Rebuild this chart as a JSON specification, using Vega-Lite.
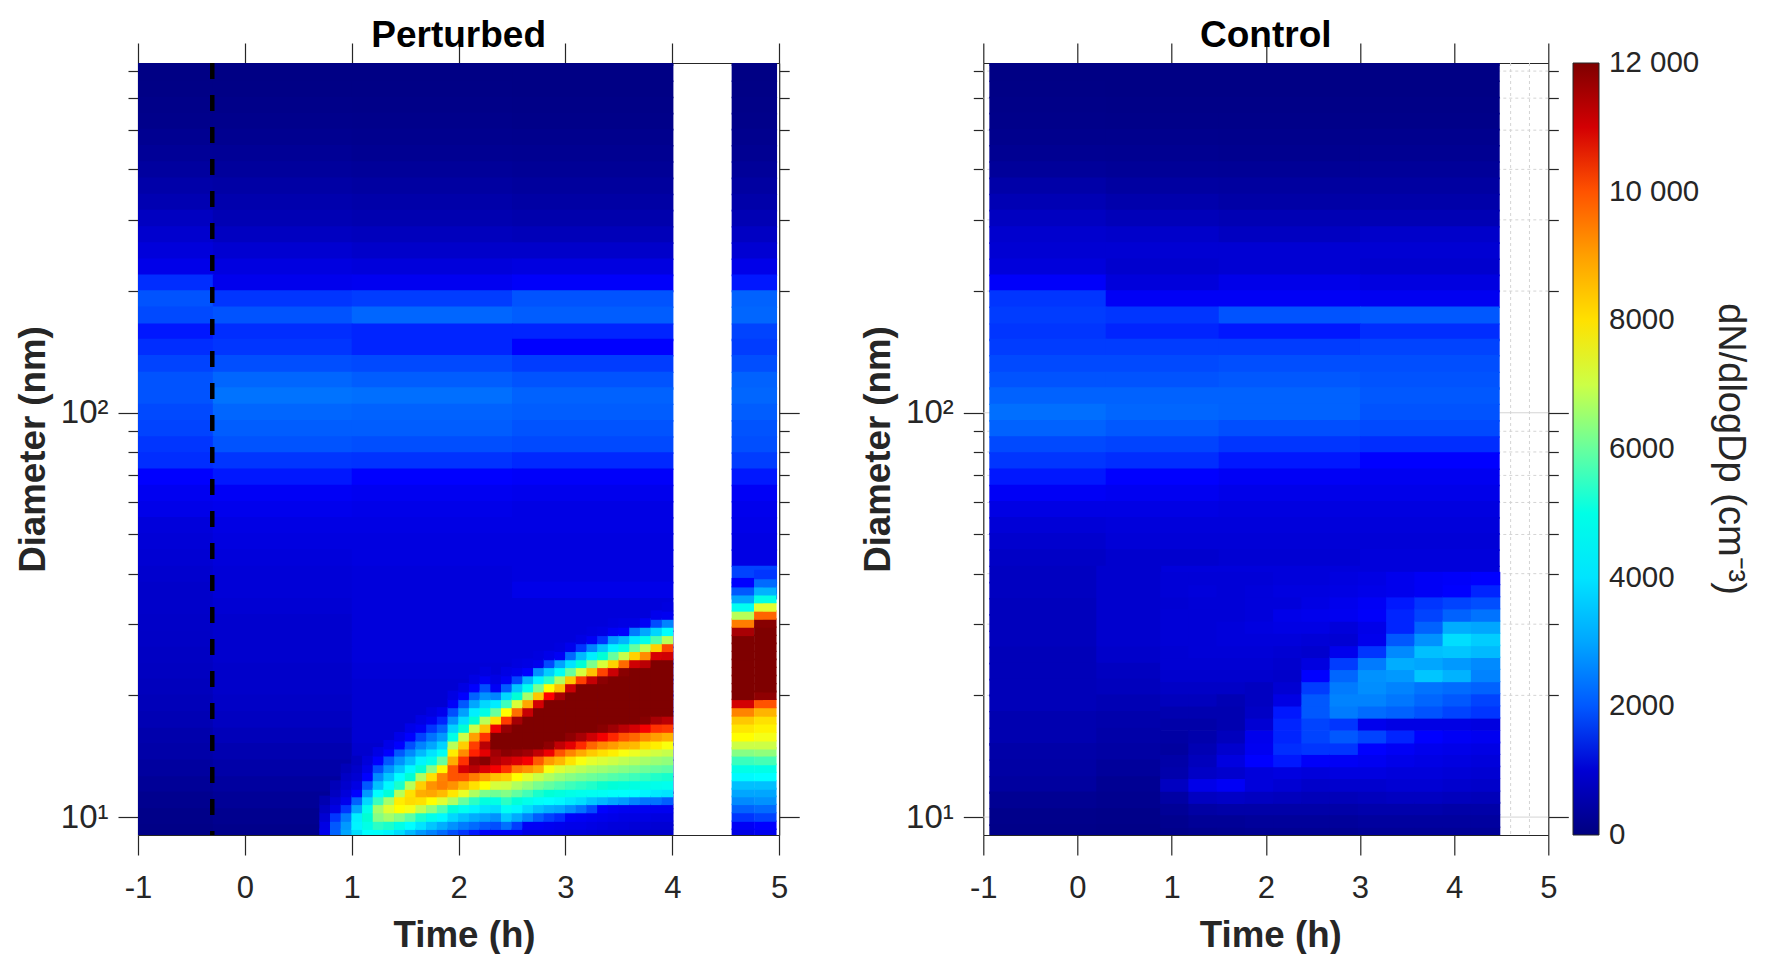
{"$schema":"https://vega.github.io/schema/vega-lite/v6.json","background":"white","padding":{"left":15,"top":17,"right":10,"bottom":0},"spacing":203.3,"bounds":"flush","resolve":{"scale":{"color":"shared"},"legend":{"color":"shared"}},
"config":{"font":"Liberation Sans","view":{"stroke":null},"axis":{"grid":false,"domainColor":"#262626","tickColor":"#262626","domainWidth":1.2,"tickWidth":1.2,"labelFontSize":31,"labelColor":"#262626","titleFontSize":36.7,"titleFontWeight":"bold","titleColor":"#262626","labelOverlap":false,"labelFlush":false,"labelBound":false,"zindex":1},"title":{"fontSize":37,"fontWeight":"bold","color":"#000000","anchor":"middle","offset":-13},"legend":{"gradientLength":772,"gradientThickness":26,"gradientStrokeColor":"#262626","gradientStrokeWidth":1,"labelFontSize":29.5,"labelColor":"#262626","labelOverlap":false,"titleFontSize":38,"titleFontWeight":"normal","titleColor":"#262626","titleOrient":"right","titleAnchor":"middle","titlePadding":12,"titleLimit":500,"titleAngle":270,"offset":4}},
"hconcat":[
{"title":"Perturbed","width":641.2,"height":772,"resolve":{"axis":{"x":"independent","y":"independent"}},"layer":[
{"data":{"values":[
{"t0":-1,"t1":-0.29,"d":759,"v":60},{"t0":-0.3,"t1":1.01,"d":759,"v":60},{"t0":1,"t1":2.51,"d":759,"v":60},{"t0":2.5,"t1":4.01,"d":759,"v":60},{"t0":4.555,"t1":4.98,"d":759,"v":60},
{"t0":-1,"t1":-0.29,"d":692,"v":70},{"t0":-0.3,"t1":1.01,"d":692,"v":70},{"t0":1,"t1":2.51,"d":692,"v":70},{"t0":2.5,"t1":4.01,"d":692,"v":70},{"t0":4.555,"t1":4.98,"d":692,"v":70},
{"t0":-1,"t1":-0.29,"d":631,"v":90},{"t0":-0.3,"t1":1.01,"d":631,"v":90},{"t0":1,"t1":2.51,"d":631,"v":90},{"t0":2.5,"t1":4.01,"d":631,"v":80},{"t0":4.555,"t1":4.98,"d":631,"v":90},
{"t0":-1,"t1":-0.29,"d":575,"v":120},{"t0":-0.3,"t1":1.01,"d":575,"v":120},{"t0":1,"t1":2.51,"d":575,"v":110},{"t0":2.5,"t1":4.01,"d":575,"v":100},{"t0":4.555,"t1":4.98,"d":575,"v":110},
{"t0":-1,"t1":-0.29,"d":525,"v":150},{"t0":-0.3,"t1":1.01,"d":525,"v":160},{"t0":1,"t1":2.51,"d":525,"v":150},{"t0":2.5,"t1":4.01,"d":525,"v":130},{"t0":4.555,"t1":4.98,"d":525,"v":140},
{"t0":-1,"t1":-0.29,"d":479,"v":220},{"t0":-0.3,"t1":1.01,"d":479,"v":210},{"t0":1,"t1":2.51,"d":479,"v":190},{"t0":2.5,"t1":4.01,"d":479,"v":170},{"t0":4.555,"t1":4.98,"d":479,"v":190},
{"t0":-1,"t1":-0.29,"d":437,"v":300},{"t0":-0.3,"t1":1.01,"d":437,"v":280},{"t0":1,"t1":2.51,"d":437,"v":240},{"t0":2.5,"t1":4.01,"d":437,"v":220},{"t0":4.555,"t1":4.98,"d":437,"v":240},
{"t0":-1,"t1":-0.29,"d":398,"v":400},{"t0":-0.3,"t1":1.01,"d":398,"v":360},{"t0":1,"t1":2.51,"d":398,"v":320},{"t0":2.5,"t1":4.01,"d":398,"v":280},{"t0":4.555,"t1":4.98,"d":398,"v":320},
{"t0":-1,"t1":-0.29,"d":363,"v":520},{"t0":-0.3,"t1":1.01,"d":363,"v":470},{"t0":1,"t1":2.51,"d":363,"v":420},{"t0":2.5,"t1":4.01,"d":363,"v":370},{"t0":4.555,"t1":4.98,"d":363,"v":420},
{"t0":-1,"t1":-0.29,"d":331,"v":620},{"t0":-0.3,"t1":1.01,"d":331,"v":560},{"t0":1,"t1":2.51,"d":331,"v":520},{"t0":2.5,"t1":4.01,"d":331,"v":450},{"t0":4.555,"t1":4.98,"d":331,"v":520},
{"t0":-1,"t1":-0.29,"d":302,"v":800},{"t0":-0.3,"t1":1.01,"d":302,"v":650},{"t0":1,"t1":2.51,"d":302,"v":600},{"t0":2.5,"t1":4.01,"d":302,"v":550},{"t0":4.555,"t1":4.98,"d":302,"v":650},
{"t0":-1,"t1":-0.29,"d":275,"v":950},{"t0":-0.3,"t1":1.01,"d":275,"v":800},{"t0":1,"t1":2.51,"d":275,"v":750},{"t0":2.5,"t1":4.01,"d":275,"v":700},{"t0":4.555,"t1":4.98,"d":275,"v":820},
{"t0":-1,"t1":-0.29,"d":251,"v":1100},{"t0":-0.3,"t1":1.01,"d":251,"v":980},{"t0":1,"t1":2.51,"d":251,"v":900},{"t0":2.5,"t1":4.01,"d":251,"v":900},{"t0":4.555,"t1":4.98,"d":251,"v":1000},
{"t0":-1,"t1":-0.29,"d":229,"v":1250},{"t0":-0.3,"t1":1.01,"d":229,"v":1150},{"t0":1,"t1":2.51,"d":229,"v":1100},{"t0":2.5,"t1":4.01,"d":229,"v":1150},{"t0":4.555,"t1":4.98,"d":229,"v":1250},
{"t0":-1,"t1":-0.29,"d":209,"v":1650},{"t0":-0.3,"t1":1.01,"d":209,"v":1300},{"t0":1,"t1":2.51,"d":209,"v":1350},{"t0":2.5,"t1":4.01,"d":209,"v":1450},{"t0":4.555,"t1":4.98,"d":209,"v":1550},
{"t0":-1,"t1":-0.29,"d":191,"v":1950},{"t0":-0.3,"t1":1.01,"d":191,"v":1700},{"t0":1,"t1":2.51,"d":191,"v":1750},{"t0":2.5,"t1":4.01,"d":191,"v":1950},{"t0":4.555,"t1":4.98,"d":191,"v":2100},
{"t0":-1,"t1":-0.29,"d":174,"v":1850},{"t0":-0.3,"t1":1.01,"d":174,"v":1950},{"t0":1,"t1":2.51,"d":174,"v":2150},{"t0":2.5,"t1":4.01,"d":174,"v":2050},{"t0":4.555,"t1":4.98,"d":174,"v":2150},
{"t0":-1,"t1":-0.29,"d":158,"v":1550},{"t0":-0.3,"t1":1.01,"d":158,"v":1650},{"t0":1,"t1":2.51,"d":158,"v":1600},{"t0":2.5,"t1":4.01,"d":158,"v":1600},{"t0":4.555,"t1":4.98,"d":158,"v":1800},
{"t0":-1,"t1":-0.29,"d":145,"v":1650},{"t0":-0.3,"t1":1.01,"d":145,"v":1700},{"t0":1,"t1":2.51,"d":145,"v":1600},{"t0":2.5,"t1":4.01,"d":145,"v":1500},{"t0":4.555,"t1":4.98,"d":145,"v":1750},
{"t0":-1,"t1":-0.29,"d":132,"v":1800},{"t0":-0.3,"t1":1.01,"d":132,"v":1900},{"t0":1,"t1":2.51,"d":132,"v":1850},{"t0":2.5,"t1":4.01,"d":132,"v":1750},{"t0":4.555,"t1":4.98,"d":132,"v":1900},
{"t0":-1,"t1":-0.29,"d":120,"v":1950},{"t0":-0.3,"t1":1.01,"d":120,"v":2150},{"t0":1,"t1":2.51,"d":120,"v":2050},{"t0":2.5,"t1":4.01,"d":120,"v":1950},{"t0":4.555,"t1":4.98,"d":120,"v":2100},
{"t0":-1,"t1":-0.29,"d":110,"v":1950},{"t0":-0.3,"t1":1.01,"d":110,"v":2300},{"t0":1,"t1":2.51,"d":110,"v":2250},{"t0":2.5,"t1":4.01,"d":110,"v":2100},{"t0":4.555,"t1":4.98,"d":110,"v":2150},
{"t0":-1,"t1":-0.29,"d":100,"v":1850},{"t0":-0.3,"t1":1.01,"d":100,"v":2150},{"t0":1,"t1":2.51,"d":100,"v":2100},{"t0":2.5,"t1":4.01,"d":100,"v":2050},{"t0":4.555,"t1":4.98,"d":100,"v":2050},
{"t0":-1,"t1":-0.29,"d":91.2,"v":1800},{"t0":-0.3,"t1":1.01,"d":91.2,"v":2050},{"t0":1,"t1":2.51,"d":91.2,"v":2050},{"t0":2.5,"t1":4.01,"d":91.2,"v":1950},{"t0":4.555,"t1":4.98,"d":91.2,"v":1950},
{"t0":-1,"t1":-0.29,"d":83.2,"v":1700},{"t0":-0.3,"t1":1.01,"d":83.2,"v":1950},{"t0":1,"t1":2.51,"d":83.2,"v":1900},{"t0":2.5,"t1":4.01,"d":83.2,"v":1850},{"t0":4.555,"t1":4.98,"d":83.2,"v":1900},
{"t0":-1,"t1":-0.29,"d":75.9,"v":1650},{"t0":-0.3,"t1":1.01,"d":75.9,"v":1700},{"t0":1,"t1":2.51,"d":75.9,"v":1680},{"t0":2.5,"t1":4.01,"d":75.9,"v":1620},{"t0":4.555,"t1":4.98,"d":75.9,"v":1750},
{"t0":-1,"t1":-0.29,"d":69.2,"v":1500},{"t0":-0.3,"t1":1.01,"d":69.2,"v":1550},{"t0":1,"t1":2.51,"d":69.2,"v":1500},{"t0":2.5,"t1":4.01,"d":69.2,"v":1450},{"t0":4.555,"t1":4.98,"d":69.2,"v":1550},
{"t0":-1,"t1":-0.29,"d":63.1,"v":1350},{"t0":-0.3,"t1":1.01,"d":63.1,"v":1400},{"t0":1,"t1":2.51,"d":63.1,"v":1350},{"t0":2.5,"t1":4.01,"d":63.1,"v":1300},{"t0":4.555,"t1":4.98,"d":63.1,"v":1400},
{"t0":-1,"t1":-0.29,"d":57.5,"v":1250},{"t0":-0.3,"t1":1.01,"d":57.5,"v":1300},{"t0":1,"t1":2.51,"d":57.5,"v":1250},{"t0":2.5,"t1":4.01,"d":57.5,"v":1200},{"t0":4.555,"t1":4.98,"d":57.5,"v":1300},
{"t0":-1,"t1":-0.29,"d":52.5,"v":1100},{"t0":-0.3,"t1":1.01,"d":52.5,"v":1200},{"t0":1,"t1":2.51,"d":52.5,"v":1200},{"t0":2.5,"t1":4.01,"d":52.5,"v":1200},{"t0":4.555,"t1":4.98,"d":52.5,"v":1250},
{"t0":-1,"t1":-0.29,"d":47.9,"v":1050},{"t0":-0.3,"t1":1.01,"d":47.9,"v":1150},{"t0":1,"t1":2.51,"d":47.9,"v":1150},{"t0":2.5,"t1":4.01,"d":47.9,"v":1150},{"t0":4.555,"t1":4.98,"d":47.9,"v":1200},
{"t0":-1,"t1":-0.29,"d":43.7,"v":1000},{"t0":-0.3,"t1":1.01,"d":43.7,"v":1100},{"t0":1,"t1":2.51,"d":43.7,"v":1150},{"t0":2.5,"t1":4.01,"d":43.7,"v":1150},{"t0":4.555,"t1":4.98,"d":43.7,"v":1200},
{"t0":-1,"t1":-0.29,"d":39.8,"v":950},{"t0":-0.3,"t1":1.01,"d":39.8,"v":1050},{"t0":1,"t1":2.51,"d":39.8,"v":1100},{"t0":2.5,"t1":4.01,"d":39.8,"v":1150},{"t0":4.555,"t1":4.98,"d":39.8,"v":1800},
{"t0":-1,"t1":-0.29,"d":36.3,"v":900},{"t0":-0.3,"t1":1.01,"d":36.3,"v":1050},{"t0":1,"t1":2.51,"d":36.3,"v":1100},{"t0":2.5,"t1":4.01,"d":36.3,"v":1250},{"t0":4.555,"t1":4.98,"d":36.3,"v":2000},
{"t0":-1,"t1":-0.29,"d":33.1,"v":900},{"t0":-0.3,"t1":1.01,"d":33.1,"v":1000},{"t0":1,"t1":4.01,"d":33.1,"v":1100},
{"t0":-1,"t1":-0.29,"d":30.2,"v":880},{"t0":-0.3,"t1":1.01,"d":30.2,"v":950},{"t0":1,"t1":4.01,"d":30.2,"v":1100},
{"t0":-1,"t1":-0.29,"d":27.5,"v":850},{"t0":-0.3,"t1":1.01,"d":27.5,"v":950},{"t0":1,"t1":4.01,"d":27.5,"v":1100},
{"t0":-1,"t1":-0.29,"d":25.1,"v":820},{"t0":-0.3,"t1":1.01,"d":25.1,"v":950},{"t0":1,"t1":4.01,"d":25.1,"v":1100},
{"t0":-1,"t1":-0.29,"d":22.9,"v":800},{"t0":-0.3,"t1":1.01,"d":22.9,"v":900},{"t0":1,"t1":4.01,"d":22.9,"v":1050},
{"t0":-1,"t1":-0.29,"d":20.9,"v":750},{"t0":-0.3,"t1":1.01,"d":20.9,"v":900},{"t0":1,"t1":4.01,"d":20.9,"v":1000},
{"t0":-1,"t1":-0.29,"d":19.1,"v":700},{"t0":-0.3,"t1":1.01,"d":19.1,"v":850},{"t0":1,"t1":4.01,"d":19.1,"v":1000},
{"t0":-1,"t1":-0.29,"d":17.4,"v":650},{"t0":-0.3,"t1":1.01,"d":17.4,"v":800},{"t0":1,"t1":4.01,"d":17.4,"v":1000},
{"t0":-1,"t1":-0.29,"d":15.8,"v":550},{"t0":-0.3,"t1":1.01,"d":15.8,"v":700},{"t0":1,"t1":4.01,"d":15.8,"v":1000},
{"t0":-1,"t1":-0.29,"d":14.5,"v":500},{"t0":-0.3,"t1":1.01,"d":14.5,"v":600},{"t0":1,"t1":4.01,"d":14.5,"v":950},
{"t0":-1,"t1":-0.29,"d":13.2,"v":400},{"t0":-0.3,"t1":1.01,"d":13.2,"v":500},{"t0":1,"t1":4.01,"d":13.2,"v":900},
{"t0":-1,"t1":-0.29,"d":12,"v":300},{"t0":-0.3,"t1":1.01,"d":12,"v":400},{"t0":1,"t1":4.01,"d":12,"v":800},
{"t0":-1,"t1":-0.29,"d":11,"v":200},{"t0":-0.3,"t1":1.01,"d":11,"v":300},{"t0":1,"t1":4.01,"d":11,"v":700},
{"t0":-1,"t1":-0.29,"d":10,"v":120},{"t0":-0.3,"t1":1.01,"d":10,"v":200},{"t0":1,"t1":4.01,"d":10,"v":600},
{"t0":-1,"t1":-0.29,"d":9.12,"v":100},{"t0":-0.3,"t1":1.01,"d":9.12,"v":150},{"t0":1,"t1":4.01,"d":9.12,"v":500}
]},"mark":{"type":"rect","height":17.8,"clip":true},"encoding":{
"x":{"field":"t0","type":"quantitative","scale":{"domain":[-1,5],"nice":false,"zero":false},"axis":{"orient":"bottom","values":[-1,0,1,2,3,4,5],"title":"Time (h)","titleX":326,"tickSize":20,"labelExpr":"''+datum.value","labelPadding":18,"titlePadding":14}},
"x2":{"field":"t1"},
"y":{"field":"d","type":"quantitative","scale":{"type":"log","domain":[9.03,733],"nice":false},"axis":{"orient":"left","values":[10,20,30,40,50,60,70,80,90,100,200,300,400,500,600,700],"title":"Diameter (nm)","tickSize":{"condition":{"test":"datum.value==10||datum.value==100","value":20},"value":10},"labelExpr":"datum.value==10?'10¹':datum.value==100?'10²':''","labelFontSize":33,"labelPadding":10,"titlePadding":8}},
"fill":{"field":"v","type":"quantitative","title":"dN/dlogDp (cm⁻³)","scale":{"domain":[0,1500,4500,7500,10500,12000],"range":["#00007f","#0000ff","#00ffff","#ffff00","#ff0000","#7f0000"]},"legend":{"values":[1,2000,4000,6000,8000,10000,11999],"labelOffset":10,"labelExpr":"datum.value>=9999?round(datum.value/1000)+' 000':''+round(datum.value/1000)*1000"}}}},
{"data":{"values":[
{"t":0.75,"d":9.12,"v":1300},{"t":0.75,"d":9.55,"v":1200},{"t":0.75,"d":10,"v":1000},{"t":0.75,"d":10.5,"v":800},{"t":0.75,"d":11,"v":600},
{"t":0.85,"d":9.12,"v":2100},{"t":0.85,"d":9.55,"v":2000},{"t":0.85,"d":10,"v":1700},{"t":0.85,"d":10.5,"v":1200},{"t":0.85,"d":11,"v":1000},{"t":0.85,"d":11.5,"v":800},{"t":0.85,"d":12,"v":700},
{"t":0.95,"d":9.12,"v":3000},{"t":0.95,"d":9.55,"v":2800},{"t":0.95,"d":10,"v":2400},{"t":0.95,"d":10.5,"v":1700},{"t":0.95,"d":11,"v":1300},{"t":0.95,"d":11.5,"v":1100},{"t":0.95,"d":12,"v":950},{"t":0.95,"d":12.6,"v":850},{"t":0.95,"d":13.2,"v":700},
{"t":1.05,"d":9.12,"v":3900},{"t":1.05,"d":9.55,"v":4300},{"t":1.05,"d":10,"v":4200},{"t":1.05,"d":10.5,"v":3000},{"t":1.05,"d":11,"v":2100},{"t":1.05,"d":11.5,"v":1500},{"t":1.05,"d":12,"v":1200},{"t":1.05,"d":12.6,"v":1000},{"t":1.05,"d":13.2,"v":900},{"t":1.05,"d":13.8,"v":800},
{"t":1.15,"d":9.12,"v":4500},{"t":1.15,"d":9.55,"v":5000},{"t":1.15,"d":10,"v":5300},{"t":1.15,"d":10.5,"v":4900},{"t":1.15,"d":11,"v":3800},{"t":1.15,"d":11.5,"v":2800},{"t":1.15,"d":12,"v":2000},{"t":1.15,"d":12.6,"v":1500},{"t":1.15,"d":13.2,"v":1250},{"t":1.15,"d":13.8,"v":1100},
{"t":1.25,"d":9.12,"v":4600},{"t":1.25,"d":9.55,"v":5500},{"t":1.25,"d":10,"v":6300},{"t":1.25,"d":10.5,"v":6600},{"t":1.25,"d":11,"v":5600},{"t":1.25,"d":11.5,"v":4500},{"t":1.25,"d":12,"v":3400},{"t":1.25,"d":12.6,"v":2600},{"t":1.25,"d":13.2,"v":1900},{"t":1.25,"d":13.8,"v":1500},{"t":1.25,"d":14.5,"v":1200},
{"t":1.35,"d":9.12,"v":4300},{"t":1.35,"d":9.55,"v":5400},{"t":1.35,"d":10,"v":6600},{"t":1.35,"d":10.5,"v":7200},{"t":1.35,"d":11,"v":6600},{"t":1.35,"d":11.5,"v":5200},{"t":1.35,"d":12,"v":4400},{"t":1.35,"d":12.6,"v":3500},{"t":1.35,"d":13.2,"v":2700},{"t":1.35,"d":13.8,"v":2000},{"t":1.35,"d":14.5,"v":1500},{"t":1.35,"d":15.1,"v":1250},
{"t":1.45,"d":9.12,"v":3900},{"t":1.45,"d":9.55,"v":5000},{"t":1.45,"d":10,"v":6300},{"t":1.45,"d":10.5,"v":7500},{"t":1.45,"d":11,"v":7800},{"t":1.45,"d":11.5,"v":6800},{"t":1.45,"d":12,"v":5400},{"t":1.45,"d":12.6,"v":4500},{"t":1.45,"d":13.2,"v":3500},{"t":1.45,"d":13.8,"v":2700},{"t":1.45,"d":14.5,"v":2000},{"t":1.45,"d":15.1,"v":1500},{"t":1.45,"d":15.8,"v":1250},
{"t":1.55,"d":9.12,"v":3300},{"t":1.55,"d":9.55,"v":4500},{"t":1.55,"d":10,"v":5900},{"t":1.55,"d":10.5,"v":7400},{"t":1.55,"d":11,"v":8100},{"t":1.55,"d":11.5,"v":8000},{"t":1.55,"d":12,"v":6800},{"t":1.55,"d":12.6,"v":5300},{"t":1.55,"d":13.2,"v":4400},{"t":1.55,"d":13.8,"v":3400},{"t":1.55,"d":14.5,"v":2600},{"t":1.55,"d":15.1,"v":1900},{"t":1.55,"d":15.8,"v":1500},{"t":1.55,"d":16.6,"v":1250},
{"t":1.65,"d":9.12,"v":2800},{"t":1.65,"d":9.55,"v":4000},{"t":1.65,"d":10,"v":5400},{"t":1.65,"d":10.5,"v":6900},{"t":1.65,"d":11,"v":8000},{"t":1.65,"d":11.5,"v":8800},{"t":1.65,"d":12,"v":8300},{"t":1.65,"d":12.6,"v":6700},{"t":1.65,"d":13.2,"v":5300},{"t":1.65,"d":13.8,"v":4300},{"t":1.65,"d":14.5,"v":3300},{"t":1.65,"d":15.1,"v":2500},{"t":1.65,"d":15.8,"v":1800},{"t":1.65,"d":16.6,"v":1400},{"t":1.65,"d":17.4,"v":1200},
{"t":1.75,"d":9.12,"v":2500},{"t":1.75,"d":9.55,"v":3500},{"t":1.75,"d":10,"v":4900},{"t":1.75,"d":10.5,"v":6400},{"t":1.75,"d":11,"v":7500},{"t":1.75,"d":11.5,"v":8900},{"t":1.75,"d":12,"v":9200},{"t":1.75,"d":12.6,"v":8000},{"t":1.75,"d":13.2,"v":6300},{"t":1.75,"d":13.8,"v":4900},{"t":1.75,"d":14.5,"v":4000},{"t":1.75,"d":15.1,"v":3000},{"t":1.75,"d":15.8,"v":2300},{"t":1.75,"d":16.6,"v":1700},{"t":1.75,"d":17.4,"v":1350},{"t":1.75,"d":18.2,"v":1150},
{"t":1.85,"d":9.12,"v":2200},{"t":1.85,"d":9.55,"v":3100},{"t":1.85,"d":10,"v":4400},{"t":1.85,"d":10.5,"v":5800},{"t":1.85,"d":11,"v":7200},{"t":1.85,"d":11.5,"v":8600},{"t":1.85,"d":12,"v":9500},{"t":1.85,"d":12.6,"v":9400},{"t":1.85,"d":13.2,"v":7600},{"t":1.85,"d":13.8,"v":6000},{"t":1.85,"d":14.5,"v":4700},{"t":1.85,"d":15.1,"v":3700},{"t":1.85,"d":15.8,"v":2800},{"t":1.85,"d":16.6,"v":2100},{"t":1.85,"d":17.4,"v":1600},{"t":1.85,"d":18.2,"v":1300},
{"t":1.95,"d":9.12,"v":1900},{"t":1.95,"d":9.55,"v":2700},{"t":1.95,"d":10,"v":3800},{"t":1.95,"d":10.5,"v":5200},{"t":1.95,"d":11,"v":6700},{"t":1.95,"d":11.5,"v":7900},{"t":1.95,"d":12,"v":9200},{"t":1.95,"d":12.6,"v":10000},{"t":1.95,"d":13.2,"v":10000},{"t":1.95,"d":13.8,"v":8800},{"t":1.95,"d":14.5,"v":7800},{"t":1.95,"d":15.1,"v":6800},{"t":1.95,"d":15.8,"v":5000},{"t":1.95,"d":16.6,"v":3700},{"t":1.95,"d":17.4,"v":2700},{"t":1.95,"d":18.2,"v":1900},{"t":1.95,"d":19.1,"v":1450},{"t":1.95,"d":20,"v":1200},
{"t":2.05,"d":9.12,"v":1700},{"t":2.05,"d":9.55,"v":2400},{"t":2.05,"d":10,"v":3400},{"t":2.05,"d":10.5,"v":4800},{"t":2.05,"d":11,"v":6000},{"t":2.05,"d":11.5,"v":7300},{"t":2.05,"d":12,"v":8600},{"t":2.05,"d":12.6,"v":10000},{"t":2.05,"d":13.2,"v":11000},{"t":2.05,"d":13.8,"v":10300},{"t":2.05,"d":14.5,"v":9300},{"t":2.05,"d":15.1,"v":8300},{"t":2.05,"d":15.8,"v":7000},{"t":2.05,"d":16.6,"v":5300},{"t":2.05,"d":17.4,"v":3900},{"t":2.05,"d":18.2,"v":2900},{"t":2.05,"d":19.1,"v":2000},{"t":2.05,"d":20,"v":1500},{"t":2.05,"d":20.9,"v":1200},
{"t":2.15,"d":9.12,"v":1550},{"t":2.15,"d":9.55,"v":2200},{"t":2.15,"d":10,"v":3100},{"t":2.15,"d":10.5,"v":4300},{"t":2.15,"d":11,"v":5500},{"t":2.15,"d":11.5,"v":6700},{"t":2.15,"d":12,"v":8000},{"t":2.15,"d":12.6,"v":9500},{"t":2.15,"d":13.2,"v":11300},{"t":2.15,"d":13.8,"v":11700},{"t":2.15,"d":14.5,"v":10400},{"t":2.15,"d":15.1,"v":10200},{"t":2.15,"d":15.8,"v":9000},{"t":2.15,"d":16.6,"v":7000},{"t":2.15,"d":17.4,"v":5300},{"t":2.15,"d":18.2,"v":4200},{"t":2.15,"d":19.1,"v":3000},{"t":2.15,"d":20,"v":2100},{"t":2.15,"d":20.9,"v":1500},{"t":2.15,"d":21.9,"v":1200},
{"t":2.25,"d":9.12,"v":1450},{"t":2.25,"d":9.55,"v":2000},{"t":2.25,"d":10,"v":2900},{"t":2.25,"d":10.5,"v":4000},{"t":2.25,"d":11,"v":5100},{"t":2.25,"d":11.5,"v":6200},{"t":2.25,"d":12,"v":7500},{"t":2.25,"d":12.6,"v":9000},{"t":2.25,"d":13.2,"v":10900},{"t":2.25,"d":13.8,"v":11900},{"t":2.25,"d":14.5,"v":10800},{"t":2.25,"d":15.1,"v":11300},{"t":2.25,"d":15.8,"v":10300},{"t":2.25,"d":16.6,"v":8500},{"t":2.25,"d":17.4,"v":6800},{"t":2.25,"d":18.2,"v":5000},{"t":2.25,"d":19.1,"v":3800},{"t":2.25,"d":20,"v":2700},{"t":2.25,"d":20.9,"v":1900},{"t":2.25,"d":21.9,"v":1400},{"t":2.25,"d":22.9,"v":1150},
{"t":2.35,"d":9.12,"v":1400},{"t":2.35,"d":9.55,"v":1900},{"t":2.35,"d":10,"v":2700},{"t":2.35,"d":10.5,"v":3900},{"t":2.35,"d":11,"v":5000},{"t":2.35,"d":11.5,"v":6100},{"t":2.35,"d":12,"v":7100},{"t":2.35,"d":12.6,"v":8500},{"t":2.35,"d":13.2,"v":10600},{"t":2.35,"d":13.8,"v":11400},{"t":2.35,"d":14.5,"v":11600},{"t":2.35,"d":15.1,"v":12000},{"t":2.35,"d":15.8,"v":12000},{"t":2.35,"d":16.6,"v":10700},{"t":2.35,"d":17.4,"v":8000},{"t":2.35,"d":18.2,"v":6000},{"t":2.35,"d":19.1,"v":4170},{"t":2.35,"d":20,"v":2500},{"t":2.35,"d":20.9,"v":1400},{"t":2.35,"d":21.9,"v":1200},
{"t":2.45,"d":9.12,"v":1400},{"t":2.45,"d":9.55,"v":2280},{"t":2.45,"d":10,"v":3580},{"t":2.45,"d":10.5,"v":4730},{"t":2.45,"d":11,"v":5500},{"t":2.45,"d":11.5,"v":6270},{"t":2.45,"d":12,"v":7040},{"t":2.45,"d":12.6,"v":8300},{"t":2.45,"d":13.2,"v":10300},{"t":2.45,"d":13.8,"v":11140},{"t":2.45,"d":14.5,"v":11860},{"t":2.45,"d":15.1,"v":12000},{"t":2.45,"d":15.8,"v":12000},{"t":2.45,"d":16.6,"v":11730},{"t":2.45,"d":17.4,"v":10230},{"t":2.45,"d":18.2,"v":7500},{"t":2.45,"d":19.1,"v":5630},{"t":2.45,"d":20,"v":3790},{"t":2.45,"d":20.9,"v":2030},{"t":2.45,"d":21.9,"v":1400},{"t":2.45,"d":22.9,"v":1200},
{"t":2.55,"d":9.12,"v":1400},{"t":2.55,"d":9.55,"v":1760},{"t":2.55,"d":10,"v":3070},{"t":2.55,"d":10.5,"v":4370},{"t":2.55,"d":11,"v":5190},{"t":2.55,"d":11.5,"v":5960},{"t":2.55,"d":12,"v":6730},{"t":2.55,"d":12.6,"v":7500},{"t":2.55,"d":13.2,"v":9500},{"t":2.55,"d":13.8,"v":10900},{"t":2.55,"d":14.5,"v":11750},{"t":2.55,"d":15.1,"v":12000},{"t":2.55,"d":15.8,"v":12000},{"t":2.55,"d":16.6,"v":12000},{"t":2.55,"d":17.4,"v":11550},{"t":2.55,"d":18.2,"v":9680},{"t":2.55,"d":19.1,"v":7130},{"t":2.55,"d":20,"v":5250},{"t":2.55,"d":20.9,"v":3500},{"t":2.55,"d":21.9,"v":1830},{"t":2.55,"d":22.9,"v":1300},{"t":2.55,"d":24,"v":1150},
{"t":2.65,"d":9.12,"v":1200},{"t":2.65,"d":9.55,"v":1400},{"t":2.65,"d":10,"v":2540},{"t":2.65,"d":10.5,"v":3850},{"t":2.65,"d":11,"v":4900},{"t":2.65,"d":11.5,"v":5670},{"t":2.65,"d":12,"v":6460},{"t":2.65,"d":12.6,"v":7250},{"t":2.65,"d":13.2,"v":9190},{"t":2.65,"d":13.8,"v":10600},{"t":2.65,"d":14.5,"v":11600},{"t":2.65,"d":15.1,"v":12000},{"t":2.65,"d":15.8,"v":12000},{"t":2.65,"d":16.6,"v":12000},{"t":2.65,"d":17.4,"v":12000},{"t":2.65,"d":18.2,"v":11150},{"t":2.65,"d":19.1,"v":8900},{"t":2.65,"d":20,"v":6620},{"t":2.65,"d":20.9,"v":4850},{"t":2.65,"d":21.9,"v":3170},{"t":2.65,"d":22.9,"v":1500},{"t":2.65,"d":24,"v":1200},
{"t":2.75,"d":9.12,"v":1200},{"t":2.75,"d":9.55,"v":1400},{"t":2.75,"d":10,"v":2050},{"t":2.75,"d":10.5,"v":3410},{"t":2.75,"d":11,"v":4650},{"t":2.75,"d":11.5,"v":5400},{"t":2.75,"d":12,"v":6170},{"t":2.75,"d":12.6,"v":6960},{"t":2.75,"d":13.2,"v":8810},{"t":2.75,"d":13.8,"v":9940},{"t":2.75,"d":14.5,"v":11200},{"t":2.75,"d":15.1,"v":12000},{"t":2.75,"d":15.8,"v":12000},{"t":2.75,"d":16.6,"v":12000},{"t":2.75,"d":17.4,"v":12000},{"t":2.75,"d":18.2,"v":12000},{"t":2.75,"d":19.1,"v":11000},{"t":2.75,"d":20,"v":8400},{"t":2.75,"d":20.9,"v":6190},{"t":2.75,"d":21.9,"v":4300},{"t":2.75,"d":22.9,"v":2670},{"t":2.75,"d":24,"v":1300},{"t":2.75,"d":25.1,"v":1150},
{"t":2.85,"d":9.12,"v":1200},{"t":2.85,"d":9.55,"v":1350},{"t":2.85,"d":10,"v":1770},{"t":2.85,"d":10.5,"v":3130},{"t":2.85,"d":11,"v":4500},{"t":2.85,"d":11.5,"v":5230},{"t":2.85,"d":12,"v":5960},{"t":2.85,"d":12.6,"v":6700},{"t":2.85,"d":13.2,"v":7430},{"t":2.85,"d":13.8,"v":9090},{"t":2.85,"d":14.5,"v":10700},{"t":2.85,"d":15.1,"v":11800},{"t":2.85,"d":15.8,"v":12000},{"t":2.85,"d":16.6,"v":12000},{"t":2.85,"d":17.4,"v":12000},{"t":2.85,"d":18.2,"v":12000},{"t":2.85,"d":19.1,"v":12000},{"t":2.85,"d":20,"v":10500},{"t":2.85,"d":20.9,"v":7500},{"t":2.85,"d":21.9,"v":5500},{"t":2.85,"d":22.9,"v":3620},{"t":2.85,"d":24,"v":1850},{"t":2.85,"d":25.1,"v":1250},
{"t":2.95,"d":9.12,"v":1150},{"t":2.95,"d":9.55,"v":1300},{"t":2.95,"d":10,"v":1630},{"t":2.95,"d":10.5,"v":3000},{"t":2.95,"d":11,"v":4360},{"t":2.95,"d":11.5,"v":5110},{"t":2.95,"d":12,"v":5790},{"t":2.95,"d":12.6,"v":6480},{"t":2.95,"d":13.2,"v":7160},{"t":2.95,"d":13.8,"v":8670},{"t":2.95,"d":14.5,"v":10000},{"t":2.95,"d":15.1,"v":11200},{"t":2.95,"d":15.8,"v":12000},{"t":2.95,"d":16.6,"v":12000},{"t":2.95,"d":17.4,"v":12000},{"t":2.95,"d":18.2,"v":12000},{"t":2.95,"d":19.1,"v":12000},{"t":2.95,"d":20,"v":11500},{"t":2.95,"d":20.9,"v":8500},{"t":2.95,"d":21.9,"v":6700},{"t":2.95,"d":22.9,"v":4700},{"t":2.95,"d":24,"v":2950},{"t":2.95,"d":25.1,"v":1400},{"t":2.95,"d":26.3,"v":1150},
{"t":3.05,"d":9.12,"v":1100},{"t":3.05,"d":9.55,"v":1250},{"t":3.05,"d":10,"v":1450},{"t":3.05,"d":10.5,"v":2650},{"t":3.05,"d":11,"v":4100},{"t":3.05,"d":11.5,"v":4970},{"t":3.05,"d":12,"v":5630},{"t":3.05,"d":12.6,"v":6300},{"t":3.05,"d":13.2,"v":6970},{"t":3.05,"d":13.8,"v":7970},{"t":3.05,"d":14.5,"v":9390},{"t":3.05,"d":15.1,"v":10800},{"t":3.05,"d":15.8,"v":11800},{"t":3.05,"d":16.6,"v":12000},{"t":3.05,"d":17.4,"v":12000},{"t":3.05,"d":18.2,"v":12000},{"t":3.05,"d":19.1,"v":12000},{"t":3.05,"d":20,"v":12000},{"t":3.05,"d":20.9,"v":11100},{"t":3.05,"d":21.9,"v":8400},{"t":3.05,"d":22.9,"v":6000},{"t":3.05,"d":24,"v":4000},{"t":3.05,"d":25.1,"v":2180},{"t":3.05,"d":26.3,"v":1300},
{"t":3.15,"d":9.12,"v":1100},{"t":3.15,"d":9.55,"v":1250},{"t":3.15,"d":10,"v":1400},{"t":3.15,"d":10.5,"v":2290},{"t":3.15,"d":11,"v":3870},{"t":3.15,"d":11.5,"v":4880},{"t":3.15,"d":12,"v":5520},{"t":3.15,"d":12.6,"v":6160},{"t":3.15,"d":13.2,"v":6800},{"t":3.15,"d":13.8,"v":7440},{"t":3.15,"d":14.5,"v":8850},{"t":3.15,"d":15.1,"v":10350},{"t":3.15,"d":15.8,"v":11500},{"t":3.15,"d":16.6,"v":12000},{"t":3.15,"d":17.4,"v":12000},{"t":3.15,"d":18.2,"v":12000},{"t":3.15,"d":19.1,"v":12000},{"t":3.15,"d":20,"v":12000},{"t":3.15,"d":20.9,"v":12000},{"t":3.15,"d":21.9,"v":10200},{"t":3.15,"d":22.9,"v":7100},{"t":3.15,"d":24,"v":5250},{"t":3.15,"d":25.1,"v":3300},{"t":3.15,"d":26.3,"v":1700},{"t":3.15,"d":27.5,"v":1200},
{"t":3.25,"d":9.12,"v":1050},{"t":3.25,"d":9.55,"v":1200},{"t":3.25,"d":10,"v":1350},{"t":3.25,"d":10.5,"v":1860},{"t":3.25,"d":11,"v":3500},{"t":3.25,"d":11.5,"v":4800},{"t":3.25,"d":12,"v":5430},{"t":3.25,"d":12.6,"v":6040},{"t":3.25,"d":13.2,"v":6640},{"t":3.25,"d":13.8,"v":7260},{"t":3.25,"d":14.5,"v":8360},{"t":3.25,"d":15.1,"v":9790},{"t":3.25,"d":15.8,"v":11050},{"t":3.25,"d":16.6,"v":12000},{"t":3.25,"d":17.4,"v":12000},{"t":3.25,"d":18.2,"v":12000},{"t":3.25,"d":19.1,"v":12000},{"t":3.25,"d":20,"v":12000},{"t":3.25,"d":20.9,"v":12000},{"t":3.25,"d":21.9,"v":11170},{"t":3.25,"d":22.9,"v":8500},{"t":3.25,"d":24,"v":6190},{"t":3.25,"d":25.1,"v":4200},{"t":3.25,"d":26.3,"v":2500},{"t":3.25,"d":27.5,"v":1400},{"t":3.25,"d":28.8,"v":1150},
{"t":3.35,"d":9.12,"v":1000},{"t":3.35,"d":9.55,"v":1150},{"t":3.35,"d":10,"v":1300},{"t":3.35,"d":10.5,"v":1500},{"t":3.35,"d":11,"v":3260},{"t":3.35,"d":11.5,"v":4740},{"t":3.35,"d":12,"v":5340},{"t":3.35,"d":12.6,"v":5940},{"t":3.35,"d":13.2,"v":6540},{"t":3.35,"d":13.8,"v":7140},{"t":3.35,"d":14.5,"v":8020},{"t":3.35,"d":15.1,"v":9330},{"t":3.35,"d":15.8,"v":10630},{"t":3.35,"d":16.6,"v":11880},{"t":3.35,"d":17.4,"v":12000},{"t":3.35,"d":18.2,"v":12000},{"t":3.35,"d":19.1,"v":12000},{"t":3.35,"d":20,"v":12000},{"t":3.35,"d":20.9,"v":12000},{"t":3.35,"d":21.9,"v":11850},{"t":3.35,"d":22.9,"v":10170},{"t":3.35,"d":24,"v":7120},{"t":3.35,"d":25.1,"v":5250},{"t":3.35,"d":26.3,"v":3440},{"t":3.35,"d":27.5,"v":1680},{"t":3.35,"d":28.8,"v":1200},
{"t":3.45,"d":9.12,"v":1000},{"t":3.45,"d":9.55,"v":1100},{"t":3.45,"d":10,"v":1250},{"t":3.45,"d":10.5,"v":1400},{"t":3.45,"d":11,"v":3000},{"t":3.45,"d":11.5,"v":4620},{"t":3.45,"d":12,"v":5220},{"t":3.45,"d":12.6,"v":5820},{"t":3.45,"d":13.2,"v":6420},{"t":3.45,"d":13.8,"v":7020},{"t":3.45,"d":14.5,"v":7760},{"t":3.45,"d":15.1,"v":9070},{"t":3.45,"d":15.8,"v":10370},{"t":3.45,"d":16.6,"v":11620},{"t":3.45,"d":17.4,"v":12000},{"t":3.45,"d":18.2,"v":12000},{"t":3.45,"d":19.1,"v":12000},{"t":3.45,"d":20,"v":12000},{"t":3.45,"d":20.9,"v":12000},{"t":3.45,"d":21.9,"v":12000},{"t":3.45,"d":22.9,"v":11100},{"t":3.45,"d":24,"v":8250},{"t":3.45,"d":25.1,"v":6000},{"t":3.45,"d":26.3,"v":4300},{"t":3.45,"d":27.5,"v":2790},{"t":3.45,"d":28.8,"v":1400},{"t":3.45,"d":30.2,"v":1150},
{"t":3.55,"d":9.12,"v":950},{"t":3.55,"d":9.55,"v":1100},{"t":3.55,"d":10,"v":1200},{"t":3.55,"d":10.5,"v":1350},{"t":3.55,"d":11,"v":2800},{"t":3.55,"d":11.5,"v":4560},{"t":3.55,"d":12,"v":5140},{"t":3.55,"d":12.6,"v":5720},{"t":3.55,"d":13.2,"v":6300},{"t":3.55,"d":13.8,"v":6870},{"t":3.55,"d":14.5,"v":7440},{"t":3.55,"d":15.1,"v":8720},{"t":3.55,"d":15.8,"v":10000},{"t":3.55,"d":16.6,"v":11280},{"t":3.55,"d":17.4,"v":12000},{"t":3.55,"d":18.2,"v":12000},{"t":3.55,"d":19.1,"v":12000},{"t":3.55,"d":20,"v":12000},{"t":3.55,"d":20.9,"v":12000},{"t":3.55,"d":21.9,"v":12000},{"t":3.55,"d":22.9,"v":11880},{"t":3.55,"d":24,"v":9750},{"t":3.55,"d":25.1,"v":6940},{"t":3.55,"d":26.3,"v":5060},{"t":3.55,"d":27.5,"v":3260},{"t":3.55,"d":28.8,"v":1500},{"t":3.55,"d":30.2,"v":1200},
{"t":3.65,"d":9.12,"v":950},{"t":3.65,"d":9.55,"v":1050},{"t":3.65,"d":10,"v":1200},{"t":3.65,"d":10.5,"v":1350},{"t":3.65,"d":11,"v":2500},{"t":3.65,"d":11.5,"v":4500},{"t":3.65,"d":12,"v":5070},{"t":3.65,"d":12.6,"v":5630},{"t":3.65,"d":13.2,"v":6200},{"t":3.65,"d":13.8,"v":6760},{"t":3.65,"d":14.5,"v":7330},{"t":3.65,"d":15.1,"v":8610},{"t":3.65,"d":15.8,"v":9760},{"t":3.65,"d":16.6,"v":11000},{"t":3.65,"d":17.4,"v":12000},{"t":3.65,"d":18.2,"v":12000},{"t":3.65,"d":19.1,"v":12000},{"t":3.65,"d":20,"v":12000},{"t":3.65,"d":20.9,"v":12000},{"t":3.65,"d":21.9,"v":12000},{"t":3.65,"d":22.9,"v":12000},{"t":3.65,"d":24,"v":11050},{"t":3.65,"d":25.1,"v":8250},{"t":3.65,"d":26.3,"v":6000},{"t":3.65,"d":27.5,"v":4150},{"t":3.65,"d":28.8,"v":2380},{"t":3.65,"d":30.2,"v":1200},
{"t":3.75,"d":9.12,"v":900},{"t":3.75,"d":9.55,"v":1050},{"t":3.75,"d":10,"v":1200},{"t":3.75,"d":10.5,"v":1350},{"t":3.75,"d":11,"v":2300},{"t":3.75,"d":11.5,"v":4300},{"t":3.75,"d":12,"v":5000},{"t":3.75,"d":12.6,"v":5530},{"t":3.75,"d":13.2,"v":6070},{"t":3.75,"d":13.8,"v":6620},{"t":3.75,"d":14.5,"v":7170},{"t":3.75,"d":15.1,"v":8020},{"t":3.75,"d":15.8,"v":9330},{"t":3.75,"d":16.6,"v":10600},{"t":3.75,"d":17.4,"v":11900},{"t":3.75,"d":18.2,"v":12000},{"t":3.75,"d":19.1,"v":12000},{"t":3.75,"d":20,"v":12000},{"t":3.75,"d":20.9,"v":12000},{"t":3.75,"d":21.9,"v":12000},{"t":3.75,"d":22.9,"v":12000},{"t":3.75,"d":24,"v":11300},{"t":3.75,"d":25.1,"v":9300},{"t":3.75,"d":26.3,"v":6900},{"t":3.75,"d":27.5,"v":4900},{"t":3.75,"d":28.8,"v":3000},{"t":3.75,"d":30.2,"v":1400},
{"t":3.85,"d":9.12,"v":900},{"t":3.85,"d":9.55,"v":1000},{"t":3.85,"d":10,"v":1150},{"t":3.85,"d":10.5,"v":1350},{"t":3.85,"d":11,"v":2300},{"t":3.85,"d":11.5,"v":4100},{"t":3.85,"d":12,"v":4900},{"t":3.85,"d":12.6,"v":5430},{"t":3.85,"d":13.2,"v":5970},{"t":3.85,"d":13.8,"v":6500},{"t":3.85,"d":14.5,"v":7040},{"t":3.85,"d":15.1,"v":7760},{"t":3.85,"d":15.8,"v":9020},{"t":3.85,"d":16.6,"v":10300},{"t":3.85,"d":17.4,"v":11500},{"t":3.85,"d":18.2,"v":12000},{"t":3.85,"d":19.1,"v":12000},{"t":3.85,"d":20,"v":12000},{"t":3.85,"d":20.9,"v":12000},{"t":3.85,"d":21.9,"v":12000},{"t":3.85,"d":22.9,"v":12000},{"t":3.85,"d":24,"v":12000},{"t":3.85,"d":25.1,"v":10960},{"t":3.85,"d":26.3,"v":8250},{"t":3.85,"d":27.5,"v":5790},{"t":3.85,"d":28.8,"v":3750},{"t":3.85,"d":30.2,"v":1880},{"t":3.85,"d":31.6,"v":1300},
{"t":3.955,"d":9.12,"v":900},{"t":3.955,"d":9.55,"v":1000},{"t":3.955,"d":10,"v":1150},{"t":3.955,"d":10.5,"v":1350},{"t":3.955,"d":11,"v":2060},{"t":3.955,"d":11.5,"v":4000},{"t":3.955,"d":12,"v":4860},{"t":3.955,"d":12.6,"v":5380},{"t":3.955,"d":13.2,"v":5900},{"t":3.955,"d":13.8,"v":6410},{"t":3.955,"d":14.5,"v":6930},{"t":3.955,"d":15.1,"v":7450},{"t":3.955,"d":15.8,"v":8770},{"t":3.955,"d":16.6,"v":10230},{"t":3.955,"d":17.4,"v":11270},{"t":3.955,"d":18.2,"v":12000},{"t":3.955,"d":19.1,"v":12000},{"t":3.955,"d":20,"v":12000},{"t":3.955,"d":20.9,"v":12000},{"t":3.955,"d":21.9,"v":12000},{"t":3.955,"d":22.9,"v":12000},{"t":3.955,"d":24,"v":12000},{"t":3.955,"d":25.1,"v":11040},{"t":3.955,"d":26.3,"v":10130},{"t":3.955,"d":27.5,"v":6800},{"t":3.955,"d":28.8,"v":4500},{"t":3.955,"d":30.2,"v":2500},{"t":3.955,"d":31.6,"v":1350},{"t":3.955,"d":33.1,"v":1150}
]},"mark":{"type":"rect","width":11.4,"height":9.5,"clip":true},"encoding":{
"x":{"field":"t","type":"quantitative","scale":{"domain":[-1,5],"nice":false,"zero":false},"axis":{"orient":"top","values":[-1,0,1,2,3,4,5],"title":null,"labels":false,"tickSize":20}},
"y":{"field":"d","type":"quantitative","scale":{"type":"log","domain":[9.03,733],"nice":false},"axis":{"orient":"right","values":[10,20,30,40,50,60,70,80,90,100,200,300,400,500,600,700],"title":null,"labels":false,"tickSize":{"condition":{"test":"datum.value==10||datum.value==100","value":20},"value":10}}},
"fill":{"field":"v","type":"quantitative","title":"dN/dlogDp (cm⁻³)","scale":{"domain":[0,1500,4500,7500,10500,12000],"range":["#00007f","#0000ff","#00ffff","#ffff00","#ff0000","#7f0000"]},"legend":{"values":[1,2000,4000,6000,8000,10000,11999],"labelOffset":10,"labelExpr":"datum.value>=9999?round(datum.value/1000)+' 000':''+round(datum.value/1000)*1000"}}}},
{"data":{"values":[
{"t":4.66,"d":9.12,"v":1200},{"t":4.66,"d":9.55,"v":1400},{"t":4.66,"d":10,"v":1700},{"t":4.66,"d":10.5,"v":2100},{"t":4.66,"d":11,"v":2600},{"t":4.66,"d":11.5,"v":3000},{"t":4.66,"d":12,"v":3400},{"t":4.66,"d":12.6,"v":4400},{"t":4.66,"d":13.2,"v":5000},{"t":4.66,"d":13.8,"v":5600},{"t":4.66,"d":14.5,"v":6300},{"t":4.66,"d":15.1,"v":7000},{"t":4.66,"d":15.8,"v":7500},{"t":4.66,"d":16.6,"v":7900},{"t":4.66,"d":17.4,"v":8400},{"t":4.66,"d":18.2,"v":9400},{"t":4.66,"d":19.1,"v":11000},{"t":4.66,"d":20,"v":12000},{"t":4.66,"d":20.9,"v":12000},{"t":4.66,"d":21.9,"v":12000},{"t":4.66,"d":22.9,"v":12000},{"t":4.66,"d":24,"v":12000},{"t":4.66,"d":25.1,"v":12000},{"t":4.66,"d":26.3,"v":12000},{"t":4.66,"d":27.5,"v":12000},{"t":4.66,"d":28.8,"v":11500},{"t":4.66,"d":30.2,"v":9500},{"t":4.66,"d":31.6,"v":6800},{"t":4.66,"d":33.1,"v":4800},{"t":4.66,"d":34.7,"v":3000},{"t":4.66,"d":36.3,"v":2000},{"t":4.66,"d":38,"v":1500},
{"t":4.87,"d":9.12,"v":1300},{"t":4.87,"d":9.55,"v":1500},{"t":4.87,"d":10,"v":1800},{"t":4.87,"d":10.5,"v":2200},{"t":4.87,"d":11,"v":2700},{"t":4.87,"d":11.5,"v":3000},{"t":4.87,"d":12,"v":3400},{"t":4.87,"d":12.6,"v":4500},{"t":4.87,"d":13.2,"v":5000},{"t":4.87,"d":13.8,"v":5700},{"t":4.87,"d":14.5,"v":6400},{"t":4.87,"d":15.1,"v":7000},{"t":4.87,"d":15.8,"v":7400},{"t":4.87,"d":16.6,"v":7700},{"t":4.87,"d":17.4,"v":8000},{"t":4.87,"d":18.2,"v":8700},{"t":4.87,"d":19.1,"v":10000},{"t":4.87,"d":20,"v":11800},{"t":4.87,"d":20.9,"v":12000},{"t":4.87,"d":21.9,"v":12000},{"t":4.87,"d":22.9,"v":12000},{"t":4.87,"d":24,"v":12000},{"t":4.87,"d":25.1,"v":12000},{"t":4.87,"d":26.3,"v":12000},{"t":4.87,"d":27.5,"v":12000},{"t":4.87,"d":28.8,"v":12000},{"t":4.87,"d":30.2,"v":11900},{"t":4.87,"d":31.6,"v":9800},{"t":4.87,"d":33.1,"v":7200},{"t":4.87,"d":34.7,"v":5000},{"t":4.87,"d":36.3,"v":3200},{"t":4.87,"d":38,"v":2200},{"t":4.87,"d":39.8,"v":1700}
]},"mark":{"type":"rect","width":22.5,"height":9.5,"clip":true},"encoding":{
"x":{"field":"t","type":"quantitative","scale":{"domain":[-1,5],"nice":false,"zero":false},"axis":null},
"y":{"field":"d","type":"quantitative","scale":{"type":"log","domain":[9.03,733],"nice":false},"axis":null},
"fill":{"field":"v","type":"quantitative","title":"dN/dlogDp (cm⁻³)","scale":{"domain":[0,1500,4500,7500,10500,12000],"range":["#00007f","#0000ff","#00ffff","#ffff00","#ff0000","#7f0000"]},"legend":{"values":[1,2000,4000,6000,8000,10000,11999],"labelOffset":10,"labelExpr":"datum.value>=9999?round(datum.value/1000)+' 000':''+round(datum.value/1000)*1000"}}}},
{"data":{"values":[{"t":-0.305}]},"mark":{"type":"rule","color":"#000000","strokeWidth":4.5,"strokeDash":[16,16]},"encoding":{"x":{"field":"t","type":"quantitative","scale":{"domain":[-1,5],"nice":false,"zero":false},"axis":null}}}
]},
{"title":"Control","width":565,"height":772,"resolve":{"axis":{"x":"independent","y":"independent"}},"layer":[
{"data":{"values":[{"d":20},{"d":30},{"d":40},{"d":50},{"d":60},{"d":70},{"d":80},{"d":90},{"d":200},{"d":300},{"d":400},{"d":500},{"d":600},{"d":700}]},"mark":{"type":"rule","color":"#d4d4d4","strokeWidth":1,"strokeDash":[3,3]},"encoding":{"y":{"field":"d","type":"quantitative","scale":{"type":"log","domain":[9.03,733],"nice":false},"axis":null}}},
{"data":{"values":[{"d":10},{"d":100}]},"mark":{"type":"rule","color":"#d4d4d4","strokeWidth":1},"encoding":{"y":{"field":"d","type":"quantitative","scale":{"type":"log","domain":[9.03,733],"nice":false},"axis":null}}},
{"data":{"values":[{"t":4.6},{"t":4.8}]},"mark":{"type":"rule","color":"#d4d4d4","strokeWidth":1,"strokeDash":[3,3]},"encoding":{"x":{"field":"t","type":"quantitative","scale":{"domain":[-1,5],"nice":false,"zero":false},"axis":null}}},
{"data":{"values":[
{"t0":-0.936,"t1":0.31,"d":759,"v":60},{"t0":0.3,"t1":1.51,"d":759,"v":60},{"t0":1.5,"t1":3.01,"d":759,"v":60},{"t0":3,"t1":4.484,"d":759,"v":60},
{"t0":-0.936,"t1":0.31,"d":692,"v":70},{"t0":0.3,"t1":1.51,"d":692,"v":70},{"t0":1.5,"t1":3.01,"d":692,"v":70},{"t0":3,"t1":4.484,"d":692,"v":70},
{"t0":-0.936,"t1":0.31,"d":631,"v":90},{"t0":0.3,"t1":1.51,"d":631,"v":80},{"t0":1.5,"t1":3.01,"d":631,"v":80},{"t0":3,"t1":4.484,"d":631,"v":80},
{"t0":-0.936,"t1":0.31,"d":575,"v":110},{"t0":0.3,"t1":1.51,"d":575,"v":100},{"t0":1.5,"t1":3.01,"d":575,"v":100},{"t0":3,"t1":4.484,"d":575,"v":100},
{"t0":-0.936,"t1":0.31,"d":525,"v":140},{"t0":0.3,"t1":1.51,"d":525,"v":130},{"t0":1.5,"t1":3.01,"d":525,"v":120},{"t0":3,"t1":4.484,"d":525,"v":130},
{"t0":-0.936,"t1":0.31,"d":479,"v":180},{"t0":0.3,"t1":1.51,"d":479,"v":170},{"t0":1.5,"t1":3.01,"d":479,"v":160},{"t0":3,"t1":4.484,"d":479,"v":190},
{"t0":-0.936,"t1":0.31,"d":437,"v":240},{"t0":0.3,"t1":1.51,"d":437,"v":220},{"t0":1.5,"t1":3.01,"d":437,"v":200},{"t0":3,"t1":4.484,"d":437,"v":240},
{"t0":-0.936,"t1":0.31,"d":398,"v":330},{"t0":0.3,"t1":1.51,"d":398,"v":300},{"t0":1.5,"t1":3.01,"d":398,"v":280},{"t0":3,"t1":4.484,"d":398,"v":320},
{"t0":-0.936,"t1":0.31,"d":363,"v":500},{"t0":0.3,"t1":1.51,"d":363,"v":420},{"t0":1.5,"t1":3.01,"d":363,"v":400},{"t0":3,"t1":4.484,"d":363,"v":420},
{"t0":-0.936,"t1":0.31,"d":331,"v":650},{"t0":0.3,"t1":1.51,"d":331,"v":550},{"t0":1.5,"t1":3.01,"d":331,"v":480},{"t0":3,"t1":4.484,"d":331,"v":520},
{"t0":-0.936,"t1":0.31,"d":302,"v":800},{"t0":0.3,"t1":1.51,"d":302,"v":700},{"t0":1.5,"t1":3.01,"d":302,"v":650},{"t0":3,"t1":4.484,"d":302,"v":650},
{"t0":-0.936,"t1":0.31,"d":275,"v":950},{"t0":0.3,"t1":1.51,"d":275,"v":900},{"t0":1.5,"t1":3.01,"d":275,"v":800},{"t0":3,"t1":4.484,"d":275,"v":900},
{"t0":-0.936,"t1":0.31,"d":251,"v":1000},{"t0":0.3,"t1":1.51,"d":251,"v":1000},{"t0":1.5,"t1":3.01,"d":251,"v":1000},{"t0":3,"t1":4.484,"d":251,"v":1000},
{"t0":-0.936,"t1":0.31,"d":229,"v":1100},{"t0":0.3,"t1":1.51,"d":229,"v":950},{"t0":1.5,"t1":3.01,"d":229,"v":1000},{"t0":3,"t1":4.484,"d":229,"v":950},
{"t0":-0.936,"t1":0.31,"d":209,"v":1450},{"t0":0.3,"t1":1.51,"d":209,"v":1100},{"t0":1.5,"t1":3.01,"d":209,"v":1250},{"t0":3,"t1":4.484,"d":209,"v":1150},
{"t0":-0.936,"t1":0.31,"d":191,"v":1700},{"t0":0.3,"t1":1.51,"d":191,"v":1400},{"t0":1.5,"t1":3.01,"d":191,"v":1400},{"t0":3,"t1":4.484,"d":191,"v":1350},
{"t0":-0.936,"t1":0.31,"d":174,"v":1750},{"t0":0.3,"t1":1.51,"d":174,"v":1700},{"t0":1.5,"t1":3.01,"d":174,"v":1950},{"t0":3,"t1":4.484,"d":174,"v":2000},
{"t0":-0.936,"t1":0.31,"d":158,"v":1700},{"t0":0.3,"t1":1.51,"d":158,"v":1600},{"t0":1.5,"t1":3.01,"d":158,"v":1550},{"t0":3,"t1":4.484,"d":158,"v":1650},
{"t0":-0.936,"t1":0.31,"d":145,"v":1750},{"t0":0.3,"t1":1.51,"d":145,"v":1750},{"t0":1.5,"t1":3.01,"d":145,"v":1750},{"t0":3,"t1":4.484,"d":145,"v":1800},
{"t0":-0.936,"t1":0.31,"d":132,"v":1850},{"t0":0.3,"t1":1.51,"d":132,"v":1850},{"t0":1.5,"t1":3.01,"d":132,"v":1900},{"t0":3,"t1":4.484,"d":132,"v":1900},
{"t0":-0.936,"t1":0.31,"d":120,"v":1950},{"t0":0.3,"t1":1.51,"d":120,"v":1950},{"t0":1.5,"t1":3.01,"d":120,"v":2000},{"t0":3,"t1":4.484,"d":120,"v":1950},
{"t0":-0.936,"t1":0.31,"d":110,"v":2100},{"t0":0.3,"t1":1.51,"d":110,"v":2100},{"t0":1.5,"t1":3.01,"d":110,"v":2100},{"t0":3,"t1":4.484,"d":110,"v":2000},
{"t0":-0.936,"t1":0.31,"d":100,"v":2250},{"t0":0.3,"t1":1.51,"d":100,"v":2150},{"t0":1.5,"t1":3.01,"d":100,"v":2100},{"t0":3,"t1":4.484,"d":100,"v":1950},
{"t0":-0.936,"t1":0.31,"d":91.2,"v":2100},{"t0":0.3,"t1":1.51,"d":91.2,"v":2000},{"t0":1.5,"t1":3.01,"d":91.2,"v":1900},{"t0":3,"t1":4.484,"d":91.2,"v":1850},
{"t0":-0.936,"t1":0.31,"d":83.2,"v":1850},{"t0":0.3,"t1":1.51,"d":83.2,"v":1800},{"t0":1.5,"t1":3.01,"d":83.2,"v":1700},{"t0":3,"t1":4.484,"d":83.2,"v":1650},
{"t0":-0.936,"t1":0.31,"d":75.9,"v":1700},{"t0":0.3,"t1":1.51,"d":75.9,"v":1650},{"t0":1.5,"t1":3.01,"d":75.9,"v":1550},{"t0":3,"t1":4.484,"d":75.9,"v":1500},
{"t0":-0.936,"t1":0.31,"d":69.2,"v":1550},{"t0":0.3,"t1":1.51,"d":69.2,"v":1500},{"t0":1.5,"t1":3.01,"d":69.2,"v":1400},{"t0":3,"t1":4.484,"d":69.2,"v":1350},
{"t0":-0.936,"t1":0.31,"d":63.1,"v":1400},{"t0":0.3,"t1":1.51,"d":63.1,"v":1350},{"t0":1.5,"t1":3.01,"d":63.1,"v":1250},{"t0":3,"t1":4.484,"d":63.1,"v":1250},
{"t0":-0.936,"t1":0.31,"d":57.5,"v":1200},{"t0":0.3,"t1":1.51,"d":57.5,"v":1200},{"t0":1.5,"t1":3.01,"d":57.5,"v":1150},{"t0":3,"t1":4.484,"d":57.5,"v":1150},
{"t0":-0.936,"t1":0.31,"d":52.5,"v":1050},{"t0":0.3,"t1":1.51,"d":52.5,"v":1100},{"t0":1.5,"t1":3.01,"d":52.5,"v":1100},{"t0":3,"t1":4.484,"d":52.5,"v":1100},
{"t0":-0.936,"t1":0.31,"d":47.9,"v":950},{"t0":0.3,"t1":1.51,"d":47.9,"v":1050},{"t0":1.5,"t1":3.01,"d":47.9,"v":1050},{"t0":3,"t1":4.484,"d":47.9,"v":1050},
{"t0":-0.936,"t1":0.31,"d":43.7,"v":850},{"t0":0.3,"t1":1.51,"d":43.7,"v":950},{"t0":1.5,"t1":3.01,"d":43.7,"v":1000},{"t0":3,"t1":4.484,"d":43.7,"v":1100},
{"t0":0.88,"t1":4.484,"d":39.8,"v":1100},
{"t0":-0.936,"t1":0.21,"d":39.8,"v":800},{"t0":0.2,"t1":0.89,"d":39.8,"v":950},
{"t0":-0.936,"t1":0.21,"d":36.3,"v":800},{"t0":0.2,"t1":0.89,"d":36.3,"v":950},
{"t0":-0.936,"t1":0.21,"d":33.1,"v":750},{"t0":0.2,"t1":0.89,"d":33.1,"v":950},
{"t0":-0.936,"t1":0.21,"d":30.2,"v":750},{"t0":0.2,"t1":0.89,"d":30.2,"v":950},
{"t0":-0.936,"t1":0.21,"d":27.5,"v":750},{"t0":0.2,"t1":0.89,"d":27.5,"v":950},
{"t0":-0.936,"t1":0.21,"d":25.1,"v":700},{"t0":0.2,"t1":0.89,"d":25.1,"v":900},
{"t0":-0.936,"t1":0.21,"d":22.9,"v":700},{"t0":0.2,"t1":0.89,"d":22.9,"v":800},
{"t0":-0.936,"t1":0.21,"d":20.9,"v":700},{"t0":0.2,"t1":0.89,"d":20.9,"v":750},
{"t0":-0.936,"t1":0.21,"d":19.1,"v":700},{"t0":0.2,"t1":0.89,"d":19.1,"v":650},
{"t0":-0.936,"t1":0.21,"d":17.4,"v":600},{"t0":0.2,"t1":0.89,"d":17.4,"v":550},
{"t0":-0.936,"t1":0.21,"d":15.8,"v":600},{"t0":0.2,"t1":0.89,"d":15.8,"v":500},
{"t0":-0.936,"t1":0.21,"d":14.5,"v":500},{"t0":0.2,"t1":0.89,"d":14.5,"v":450},
{"t0":-0.936,"t1":0.21,"d":13.2,"v":450},{"t0":0.2,"t1":0.89,"d":13.2,"v":350},
{"t0":-0.936,"t1":0.21,"d":12,"v":400},{"t0":0.2,"t1":0.89,"d":12,"v":250},
{"t0":-0.936,"t1":0.21,"d":11,"v":250},{"t0":0.2,"t1":0.89,"d":11,"v":200},
{"t0":-0.936,"t1":0.21,"d":10,"v":150},{"t0":0.2,"t1":0.89,"d":10,"v":130},
{"t0":-0.936,"t1":0.21,"d":9.12,"v":130},{"t0":0.2,"t1":0.89,"d":9.12,"v":100}
]},"mark":{"type":"rect","height":17.8,"clip":true},"encoding":{
"x":{"field":"t0","type":"quantitative","scale":{"domain":[-1,5],"nice":false,"zero":false},"axis":{"orient":"bottom","values":[-1,0,1,2,3,4,5],"title":"Time (h)","titleX":287,"tickSize":20,"labelExpr":"''+datum.value","labelPadding":18,"titlePadding":14}},
"x2":{"field":"t1"},
"y":{"field":"d","type":"quantitative","scale":{"type":"log","domain":[9.03,733],"nice":false},"axis":{"orient":"left","values":[10,20,30,40,50,60,70,80,90,100,200,300,400,500,600,700],"title":"Diameter (nm)","tickSize":{"condition":{"test":"datum.value==10||datum.value==100","value":20},"value":10},"labelExpr":"datum.value==10?'10¹':datum.value==100?'10²':''","labelFontSize":33,"labelPadding":10,"titlePadding":8}},
"fill":{"field":"v","type":"quantitative","title":"dN/dlogDp (cm⁻³)","scale":{"domain":[0,1500,4500,7500,10500,12000],"range":["#00007f","#0000ff","#00ffff","#ffff00","#ff0000","#7f0000"]},"legend":{"values":[1,2000,4000,6000,8000,10000,11999],"labelOffset":10,"labelExpr":"datum.value>=9999?round(datum.value/1000)+' 000':''+round(datum.value/1000)*1000"}}}},
{"data":{"values":[
{"t":1.034,"d":9.12,"v":150},{"t":1.034,"d":9.77,"v":200},{"t":1.034,"d":10.5,"v":300},{"t":1.034,"d":11.2,"v":450},{"t":1.034,"d":12,"v":800},{"t":1.034,"d":12.9,"v":550},{"t":1.034,"d":13.8,"v":500},{"t":1.034,"d":14.8,"v":400},{"t":1.034,"d":15.8,"v":450},{"t":1.034,"d":17,"v":500},{"t":1.034,"d":18.2,"v":600},{"t":1.034,"d":19.5,"v":750},{"t":1.034,"d":20.9,"v":850},{"t":1.034,"d":22.4,"v":950},{"t":1.034,"d":24,"v":1000},{"t":1.034,"d":25.7,"v":1000},{"t":1.034,"d":27.5,"v":1050},{"t":1.034,"d":29.5,"v":1050},{"t":1.034,"d":31.6,"v":1050},{"t":1.034,"d":33.9,"v":1000},{"t":1.034,"d":36.3,"v":1050},{"t":1.034,"d":38.9,"v":1050},
{"t":1.334,"d":9.12,"v":200},{"t":1.334,"d":9.77,"v":300},{"t":1.334,"d":10.5,"v":450},{"t":1.334,"d":11.2,"v":800},{"t":1.334,"d":12,"v":1250},{"t":1.334,"d":12.9,"v":850},{"t":1.334,"d":13.8,"v":750},{"t":1.334,"d":14.8,"v":650},{"t":1.334,"d":15.8,"v":550},{"t":1.334,"d":17,"v":500},{"t":1.334,"d":18.2,"v":600},{"t":1.334,"d":19.5,"v":750},{"t":1.334,"d":20.9,"v":850},{"t":1.334,"d":22.4,"v":950},{"t":1.334,"d":24,"v":1000},{"t":1.334,"d":25.7,"v":1050},{"t":1.334,"d":27.5,"v":1050},{"t":1.334,"d":29.5,"v":1050},{"t":1.334,"d":31.6,"v":1050},{"t":1.334,"d":33.9,"v":1050},{"t":1.334,"d":36.3,"v":1100},{"t":1.334,"d":38.9,"v":1050},
{"t":1.634,"d":9.12,"v":220},{"t":1.634,"d":9.77,"v":300},{"t":1.634,"d":10.5,"v":500},{"t":1.634,"d":11.2,"v":850},{"t":1.634,"d":12,"v":1400},{"t":1.634,"d":12.9,"v":950},{"t":1.634,"d":13.8,"v":1150},{"t":1.634,"d":14.8,"v":950},{"t":1.634,"d":15.8,"v":750},{"t":1.634,"d":17,"v":600},{"t":1.634,"d":18.2,"v":600},{"t":1.634,"d":19.5,"v":650},{"t":1.634,"d":20.9,"v":850},{"t":1.634,"d":22.4,"v":950},{"t":1.634,"d":24,"v":1000},{"t":1.634,"d":25.7,"v":1050},{"t":1.634,"d":27.5,"v":1100},{"t":1.634,"d":29.5,"v":1100},{"t":1.634,"d":31.6,"v":1050},{"t":1.634,"d":33.9,"v":1050},{"t":1.634,"d":36.3,"v":1050},{"t":1.634,"d":38.9,"v":1050},
{"t":1.934,"d":9.12,"v":250},{"t":1.934,"d":9.77,"v":350},{"t":1.934,"d":10.5,"v":500},{"t":1.934,"d":11.2,"v":800},{"t":1.934,"d":12,"v":1100},{"t":1.934,"d":12.9,"v":1100},{"t":1.934,"d":13.8,"v":1500},{"t":1.934,"d":14.8,"v":1350},{"t":1.934,"d":15.8,"v":1300},{"t":1.934,"d":17,"v":1000},{"t":1.934,"d":18.2,"v":850},{"t":1.934,"d":19.5,"v":800},{"t":1.934,"d":20.9,"v":800},{"t":1.934,"d":22.4,"v":950},{"t":1.934,"d":24,"v":1000},{"t":1.934,"d":25.7,"v":1050},{"t":1.934,"d":27.5,"v":1100},{"t":1.934,"d":29.5,"v":1150},{"t":1.934,"d":31.6,"v":1100},{"t":1.934,"d":33.9,"v":1100},{"t":1.934,"d":36.3,"v":1100},{"t":1.934,"d":38.9,"v":1050},
{"t":2.234,"d":9.12,"v":250},{"t":2.234,"d":9.77,"v":350},{"t":2.234,"d":10.5,"v":500},{"t":2.234,"d":11.2,"v":750},{"t":2.234,"d":12,"v":1000},{"t":2.234,"d":12.9,"v":1150},{"t":2.234,"d":13.8,"v":1550},{"t":2.234,"d":14.8,"v":1650},{"t":2.234,"d":15.8,"v":1600},{"t":2.234,"d":17,"v":1600},{"t":2.234,"d":18.2,"v":1550},{"t":2.234,"d":19.5,"v":1200},{"t":2.234,"d":20.9,"v":1000},{"t":2.234,"d":22.4,"v":900},{"t":2.234,"d":24,"v":950},{"t":2.234,"d":25.7,"v":1000},{"t":2.234,"d":27.5,"v":1100},{"t":2.234,"d":29.5,"v":1200},{"t":2.234,"d":31.6,"v":1250},{"t":2.234,"d":33.9,"v":1100},{"t":2.234,"d":36.3,"v":1150},{"t":2.234,"d":38.9,"v":1100},
{"t":2.534,"d":9.12,"v":250},{"t":2.534,"d":9.77,"v":350},{"t":2.534,"d":10.5,"v":500},{"t":2.534,"d":11.2,"v":700},{"t":2.534,"d":12,"v":900},{"t":2.534,"d":12.9,"v":1100},{"t":2.534,"d":13.8,"v":1450},{"t":2.534,"d":14.8,"v":1700},{"t":2.534,"d":15.8,"v":1800},{"t":2.534,"d":17,"v":1800},{"t":2.534,"d":18.2,"v":2000},{"t":2.534,"d":19.5,"v":2000},{"t":2.534,"d":20.9,"v":1750},{"t":2.534,"d":22.4,"v":1500},{"t":2.534,"d":24,"v":1150},{"t":2.534,"d":25.7,"v":950},{"t":2.534,"d":27.5,"v":1050},{"t":2.534,"d":29.5,"v":1200},{"t":2.534,"d":31.6,"v":1300},{"t":2.534,"d":33.9,"v":1200},{"t":2.534,"d":36.3,"v":1150},{"t":2.534,"d":38.9,"v":1100},
{"t":2.834,"d":9.12,"v":250},{"t":2.834,"d":9.77,"v":350},{"t":2.834,"d":10.5,"v":500},{"t":2.834,"d":11.2,"v":700},{"t":2.834,"d":12,"v":950},{"t":2.834,"d":12.9,"v":1150},{"t":2.834,"d":13.8,"v":1400},{"t":2.834,"d":14.8,"v":1700},{"t":2.834,"d":15.8,"v":2000},{"t":2.834,"d":17,"v":1700},{"t":2.834,"d":18.2,"v":2400},{"t":2.834,"d":19.5,"v":2500},{"t":2.834,"d":20.9,"v":2400},{"t":2.834,"d":22.4,"v":2150},{"t":2.834,"d":24,"v":1750},{"t":2.834,"d":25.7,"v":1300},{"t":2.834,"d":27.5,"v":1000},{"t":2.834,"d":29.5,"v":1100},{"t":2.834,"d":31.6,"v":1350},{"t":2.834,"d":33.9,"v":1300},{"t":2.834,"d":36.3,"v":1200},{"t":2.834,"d":38.9,"v":1150},
{"t":3.134,"d":9.12,"v":300},{"t":3.134,"d":9.77,"v":400},{"t":3.134,"d":10.5,"v":550},{"t":3.134,"d":11.2,"v":750},{"t":3.134,"d":12,"v":950},{"t":3.134,"d":12.9,"v":1150},{"t":3.134,"d":13.8,"v":1350},{"t":3.134,"d":14.8,"v":1500},{"t":3.134,"d":15.8,"v":1800},{"t":3.134,"d":17,"v":1300},{"t":3.134,"d":18.2,"v":2200},{"t":3.134,"d":19.5,"v":2500},{"t":3.134,"d":20.9,"v":2650},{"t":3.134,"d":22.4,"v":2700},{"t":3.134,"d":24,"v":2400},{"t":3.134,"d":25.7,"v":1700},{"t":3.134,"d":27.5,"v":1300},{"t":3.134,"d":29.5,"v":1250},{"t":3.134,"d":31.6,"v":1450},{"t":3.134,"d":33.9,"v":1400},{"t":3.134,"d":36.3,"v":1250},{"t":3.134,"d":38.9,"v":1200},
{"t":3.434,"d":9.12,"v":300},{"t":3.434,"d":9.77,"v":400},{"t":3.434,"d":10.5,"v":550},{"t":3.434,"d":11.2,"v":800},{"t":3.434,"d":12,"v":1000},{"t":3.434,"d":12.9,"v":1100},{"t":3.434,"d":13.8,"v":1250},{"t":3.434,"d":14.8,"v":1400},{"t":3.434,"d":15.8,"v":1600},{"t":3.434,"d":17,"v":1200},{"t":3.434,"d":18.2,"v":2100},{"t":3.434,"d":19.5,"v":2350},{"t":3.434,"d":20.9,"v":2500},{"t":3.434,"d":22.4,"v":2800},{"t":3.434,"d":24,"v":3100},{"t":3.434,"d":25.7,"v":2600},{"t":3.434,"d":27.5,"v":2000},{"t":3.434,"d":29.5,"v":1600},{"t":3.434,"d":31.6,"v":1600},{"t":3.434,"d":33.9,"v":1550},{"t":3.434,"d":36.3,"v":1300},{"t":3.434,"d":38.9,"v":1300},
{"t":3.734,"d":9.12,"v":300},{"t":3.734,"d":9.77,"v":400},{"t":3.734,"d":10.5,"v":550},{"t":3.734,"d":11.2,"v":800},{"t":3.734,"d":12,"v":1000},{"t":3.734,"d":12.9,"v":1100},{"t":3.734,"d":13.8,"v":1200},{"t":3.734,"d":14.8,"v":1300},{"t":3.734,"d":15.8,"v":1500},{"t":3.734,"d":17,"v":1200},{"t":3.734,"d":18.2,"v":1950},{"t":3.734,"d":19.5,"v":2150},{"t":3.734,"d":20.9,"v":2300},{"t":3.734,"d":22.4,"v":3500},{"t":3.734,"d":24,"v":3000},{"t":3.734,"d":25.7,"v":3400},{"t":3.734,"d":27.5,"v":2700},{"t":3.734,"d":29.5,"v":2100},{"t":3.734,"d":31.6,"v":1800},{"t":3.734,"d":33.9,"v":1700},{"t":3.734,"d":36.3,"v":1400},{"t":3.734,"d":38.9,"v":1400},
{"t":4.034,"d":9.12,"v":300},{"t":4.034,"d":9.77,"v":400},{"t":4.034,"d":10.5,"v":500},{"t":4.034,"d":11.2,"v":750},{"t":4.034,"d":12,"v":950},{"t":4.034,"d":12.9,"v":1050},{"t":4.034,"d":13.8,"v":1150},{"t":4.034,"d":14.8,"v":1250},{"t":4.034,"d":15.8,"v":1400},{"t":4.034,"d":17,"v":1200},{"t":4.034,"d":18.2,"v":1800},{"t":4.034,"d":19.5,"v":2000},{"t":4.034,"d":20.9,"v":2200},{"t":4.034,"d":22.4,"v":3200},{"t":4.034,"d":24,"v":2800},{"t":4.034,"d":25.7,"v":3500},{"t":4.034,"d":27.5,"v":3900},{"t":4.034,"d":29.5,"v":3100},{"t":4.034,"d":31.6,"v":2100},{"t":4.034,"d":33.9,"v":1800},{"t":4.034,"d":36.3,"v":1500},{"t":4.034,"d":38.9,"v":1450},
{"t":4.334,"d":9.12,"v":300},{"t":4.334,"d":9.77,"v":400},{"t":4.334,"d":10.5,"v":500},{"t":4.334,"d":11.2,"v":700},{"t":4.334,"d":12,"v":900},{"t":4.334,"d":12.9,"v":1000},{"t":4.334,"d":13.8,"v":1100},{"t":4.334,"d":14.8,"v":1200},{"t":4.334,"d":15.8,"v":1350},{"t":4.334,"d":17,"v":1150},{"t":4.334,"d":18.2,"v":1700},{"t":4.334,"d":19.5,"v":1800},{"t":4.334,"d":20.9,"v":2100},{"t":4.334,"d":22.4,"v":2500},{"t":4.334,"d":24,"v":2600},{"t":4.334,"d":25.7,"v":3300},{"t":4.334,"d":27.5,"v":3600},{"t":4.334,"d":29.5,"v":3000},{"t":4.334,"d":31.6,"v":2300},{"t":4.334,"d":33.9,"v":1900},{"t":4.334,"d":36.3,"v":1600},{"t":4.334,"d":38.9,"v":1500}
]},"mark":{"type":"rect","width":29.4,"height":13.4,"clip":true},"encoding":{
"x":{"field":"t","type":"quantitative","scale":{"domain":[-1,5],"nice":false,"zero":false},"axis":{"orient":"top","values":[-1,0,1,2,3,4,5],"title":null,"labels":false,"tickSize":20}},
"y":{"field":"d","type":"quantitative","scale":{"type":"log","domain":[9.03,733],"nice":false},"axis":{"orient":"right","values":[10,20,30,40,50,60,70,80,90,100,200,300,400,500,600,700],"title":null,"labels":false,"tickSize":{"condition":{"test":"datum.value==10||datum.value==100","value":20},"value":10}}},
"fill":{"field":"v","type":"quantitative","title":"dN/dlogDp (cm⁻³)","scale":{"domain":[0,1500,4500,7500,10500,12000],"range":["#00007f","#0000ff","#00ffff","#ffff00","#ff0000","#7f0000"]},"legend":{"values":[1,2000,4000,6000,8000,10000,11999],"labelOffset":10,"labelExpr":"datum.value>=9999?round(datum.value/1000)+' 000':''+round(datum.value/1000)*1000"}}}}
]}
]}
